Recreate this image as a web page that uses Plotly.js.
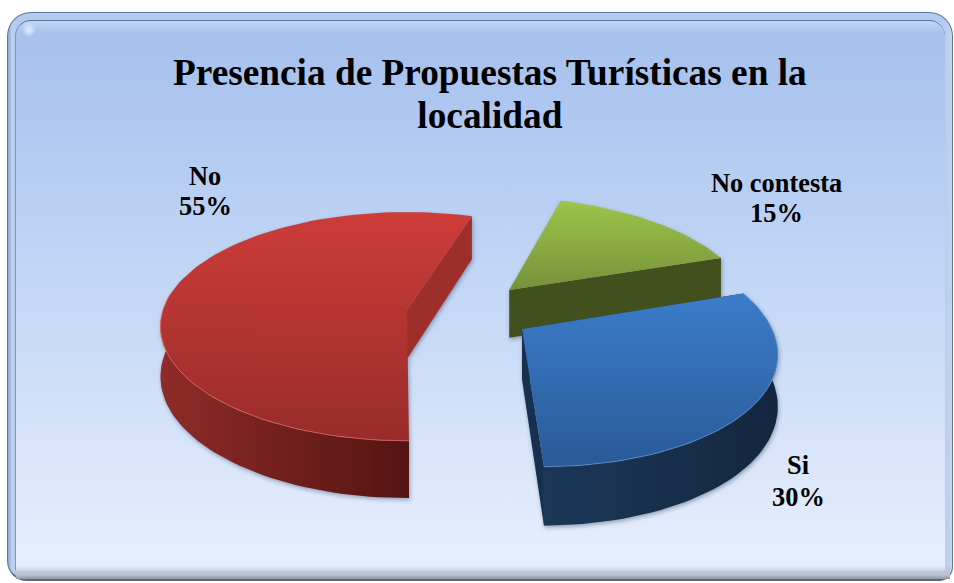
<!DOCTYPE html>
<html><head><meta charset="utf-8">
<script src="https://cdn.plot.ly/plotly-3.0.1.min.js"></script>
<style>
html,body{margin:0;padding:0;background:#fff;width:954px;height:583px;overflow:hidden}
#outer{position:absolute;left:7px;top:12px;width:946px;height:569px;box-sizing:border-box;border:1.5px solid #5f7899;border-bottom:2.5px solid #566a86;border-radius:24px 24px 14px 20px;background:linear-gradient(90deg,#8ea7cd 0,#bcd1f2 4px,#b4cbf0 8px,#b4cbf0 99%,#c6d4ea 100%)}
#inner{position:absolute;left:15px;top:20px;width:930px;height:551px;box-sizing:border-box;border-top:1.5px solid #5d7699;border-left:1.5px solid #7f98bd;border-radius:16px 16px 2px 2px;background:linear-gradient(180deg,#c4d8f6 0,#a8c2ed 12px,#a8c2ee 30px,#b6cdf2 150px,#cbdcf7 330px,#dfe9fb 480px,#e6effe 100%)}
#bottomband{position:absolute;left:16px;top:565px;width:934px;height:14px;background:linear-gradient(180deg,rgba(226,235,251,0) 0,#bcc3d0 70%,#8d94a2 100%)}
#glow{position:absolute;left:22px;top:23px;width:14px;height:14px;border-radius:50%;background:radial-gradient(circle,#e6f0ff 0,rgba(230,240,255,0) 70%)}
#plot{position:absolute;left:0;top:0;width:954px;height:583px}
.scatterlayer{filter:drop-shadow(1px 2px 2px rgba(50,70,100,.45))}
</style></head><body>
<div id="outer"></div><div id="inner"></div><div id="bottomband"></div><div id="glow"></div>
<div id="plot"></div>
<script>
// Data
const chartTitle = 'Presencia de Propuestas Turísticas en la<br>localidad';
const categories = ['No contesta', 'Si', 'No'];
const values = [15, 30, 55];

// Palette and style per slice: [low colour, high colour] of each gradient
const topColors  = [['#76923a','#9dc44a'], ['#2a5a97','#3b7cc9'], ['#982c2a','#cd3c39']];
const wallColors = [['#41501c','#41501c'], ['#1b3858','#14263f'], ['#8f2b28','#541412']];
const cutColors  = ['#41501c', '#17304f', '#9e2e2a'];
const rimGlow    = [null, 'rgba(120,170,235,0.55)', 'rgba(235,110,100,0.7)'];
// Exploded offset of each slice on the pie's plane
const offsets = [[0.43, 0.183], [0.46, -0.165], [0, 0]];
// Visible part of each outer wall, as [from, to] fraction along its arc
const wallSpan = [null, [0, 1], [0, 0.5]];
// Which cut edge shows: start or end of the slice
const cutEdge = ['end', 'start-end', 'end'];
// Label positions on screen
const labelPos = [[776, 183, 213], [798, 465, 497], [205, 176, 206]];

// Projection of the tilted pie plane
const cx = 407, cy = 310, A = 244, B = 112, K = 0.144, DEPTH = 49, START = 17.6;
function project(u, v, down) {
  const w = 1 + K * v;
  return [cx + A * u / w, cy - B * v / w + (down ? DEPTH / w : 0)];
}
function rim(off, a0, a1, down) {
  const pts = [], n = Math.max(4, Math.ceil(Math.abs(a1 - a0) / 2));
  for (let i = 0; i <= n; i++) {
    const a = (a0 + (a1 - a0) * i / n) * Math.PI / 180;
    pts.push(project(off[0] + Math.sin(a), off[1] + Math.cos(a), down));
  }
  return pts;
}
function poly(pts, fill) {
  const t = {type: 'scatter', mode: 'lines', x: pts.map(p => p[0]), y: pts.map(p => p[1]),
    fill: 'toself', line: {width: 0}, hoverinfo: 'skip', showlegend: false};
  Object.assign(t, fill);
  return t;
}
const grad = (type, c) => ({fillgradient: {type, colorscale: [[0, c[0]], [1, c[1]]]}, fillcolor: c[1]});

const traces = [];
const tops = [];
let angle = START;
values.forEach((val, i) => {
  const sweep = val / 100 * 360, a0 = angle, a1 = angle + sweep, off = offsets[i];
  angle = a1;
  // Outer wall
  if (wallSpan[i]) {
    const f0 = a0 + sweep * wallSpan[i][0], f1 = a0 + sweep * wallSpan[i][1];
    const up = rim(off, f0, f1, false), dn = rim(off, f0, f1, true).reverse();
    traces.push(poly(up.concat(dn), grad('horizontal', wallColors[i])));
  }
  // Cut faces
  const apexT = project(off[0], off[1], false), apexB = project(off[0], off[1], true);
  const edge = (a) => {
    const r = a * Math.PI / 180, u = off[0] + Math.sin(r), v = off[1] + Math.cos(r);
    traces.push(poly([apexT, project(u, v, false), project(u, v, true), apexB], {fillcolor: cutColors[i]}));
  };
  if (cutEdge[i].includes('start')) edge(a0);
  edge(a1);
  // Top face, drawn last
  const face = [apexT].concat(rim(off, a0, a1, false));
  tops.push(poly(face, grad('vertical', topColors[i])));
  // Light edge along the near rim
  if (rimGlow[i]) {
    const f0 = a0 + sweep * wallSpan[i][0], f1 = a0 + sweep * wallSpan[i][1];
    const arc = rim(off, f0, f1, false);
    tops.push({type: 'scatter', mode: 'lines', x: arc.map(p => p[0]), y: arc.map(p => p[1]),
      line: {width: 1, color: rimGlow[i]}, hoverinfo: 'skip', showlegend: false});
  }
});

const annotations = [];
categories.forEach((c, i) => {
  const font = {family: '"Liberation Serif","Times New Roman",serif', size: 26.4, color: '#000'};
  annotations.push({x: labelPos[i][0], y: labelPos[i][1], text: '<b>' + c + '</b>', showarrow: false, font, xanchor: 'center', yanchor: 'middle'});
  annotations.push({x: labelPos[i][0], y: labelPos[i][2], text: '<b>' + values[i] + '%</b>', showarrow: false, font, xanchor: 'center', yanchor: 'middle'});
});

Plotly.newPlot('plot', traces.concat(tops), {
  width: 954, height: 583, margin: {l: 0, r: 0, t: 0, b: 0},
  paper_bgcolor: 'rgba(0,0,0,0)', plot_bgcolor: 'rgba(0,0,0,0)',
  showlegend: false,
  title: {text: '<b>' + chartTitle + '</b>', x: 0.5135, xanchor: 'center', y: 0.9, yanchor: 'top',
    font: {family: '"Liberation Serif","Times New Roman",serif', size: 37.3, color: '#000'}},
  xaxis: {range: [0, 954], visible: false, fixedrange: true},
  yaxis: {range: [583, 0], visible: false, fixedrange: true},
  annotations
}, {displayModeBar: false, staticPlot: true}).then(() => {
  // Title line spacing of the reference is tighter than Plotly's default
  const lines = document.querySelectorAll('.gtitle .line');
  if (lines.length === 2) {
    lines[0].setAttribute('y', 85);
    lines[1].setAttribute('y', 128);
    lines[1].setAttribute('dy', 0);
  }
});
</script>
</body></html>
